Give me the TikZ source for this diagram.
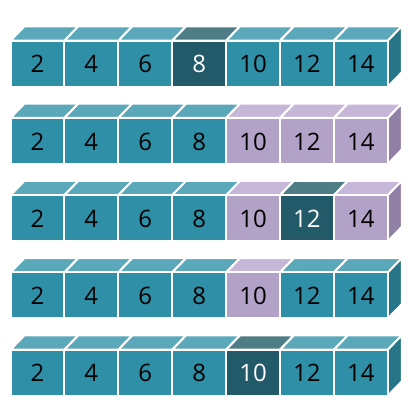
\documentclass[tikz,border=0pt]{standalone}
\usepackage{fontspec}
\setmainfont{Open Sans}
\definecolor{Tfront}{RGB}{46,143,166}
\definecolor{Ttop}{RGB}{90,168,185}
\definecolor{Tside}{RGB}{38,118,136}
\definecolor{Ttxt}{RGB}{0,0,0}
\definecolor{Dfront}{RGB}{35,90,105}
\definecolor{Dtop}{RGB}{79,125,133}
\definecolor{Dside}{RGB}{30,75,88}
\definecolor{Dtxt}{RGB}{255,255,255}
\definecolor{Pfront}{RGB}{178,162,200}
\definecolor{Ptop}{RGB}{198,183,216}
\definecolor{Pside}{RGB}{145,128,165}
\definecolor{Ptxt}{RGB}{0,0,0}
\tikzset{
  cubeedge/.style={draw=white, line width=2pt, line join=round},
  cubelabel/.style={font=\fontsize{24}{28}\selectfont, inner sep=0pt}
}
\def\pitch{53.9}
\def\rowpitch{77.25}
\newcommand\mycube[3]{%
  \pgfmathsetmacro\xa{10.5+\pitch*#1}%
  \pgfmathsetmacro\ya{40.7+\rowpitch*#2}%
  \pgfmathtruncatemacro\lab{2*(#1+1)}%
  \filldraw[fill=#3top, cubeedge] (\xa,\ya) -- ++(14,-14.4) -- ++(\pitch,0) -- ++(-14,14.4) -- cycle;
  \ifnum#1=6
    \filldraw[fill=#3side, cubeedge] (\xa+\pitch,\ya) -- ++(14,-14.4) -- ++(0,46) -- ++(-14,14.4) -- cycle;
  \fi
  \filldraw[fill=#3front, cubeedge] (\xa,\ya) rectangle ++(\pitch,46);
  \node[cubelabel, text=#3txt] (c#2-#1) at (\xa+\pitch/2,\ya+23.5) {\lab};
}
\begin{document}
\begin{tikzpicture}[x=1pt,y=-1pt]
\useasboundingbox (0,0) rectangle (415,410);
\foreach \s [count=\c from 0] in {T,T,T,D,T,T,T} {\mycube{\c}{0}{\s}}
\foreach \s [count=\c from 0] in {T,T,T,T,P,P,P} {\mycube{\c}{1}{\s}}
\foreach \s [count=\c from 0] in {T,T,T,T,P,D,P} {\mycube{\c}{2}{\s}}
\foreach \s [count=\c from 0] in {T,T,T,T,P,T,T} {\mycube{\c}{3}{\s}}
\foreach \s [count=\c from 0] in {T,T,T,T,D,T,T} {\mycube{\c}{4}{\s}}
\end{tikzpicture}
\end{document}
